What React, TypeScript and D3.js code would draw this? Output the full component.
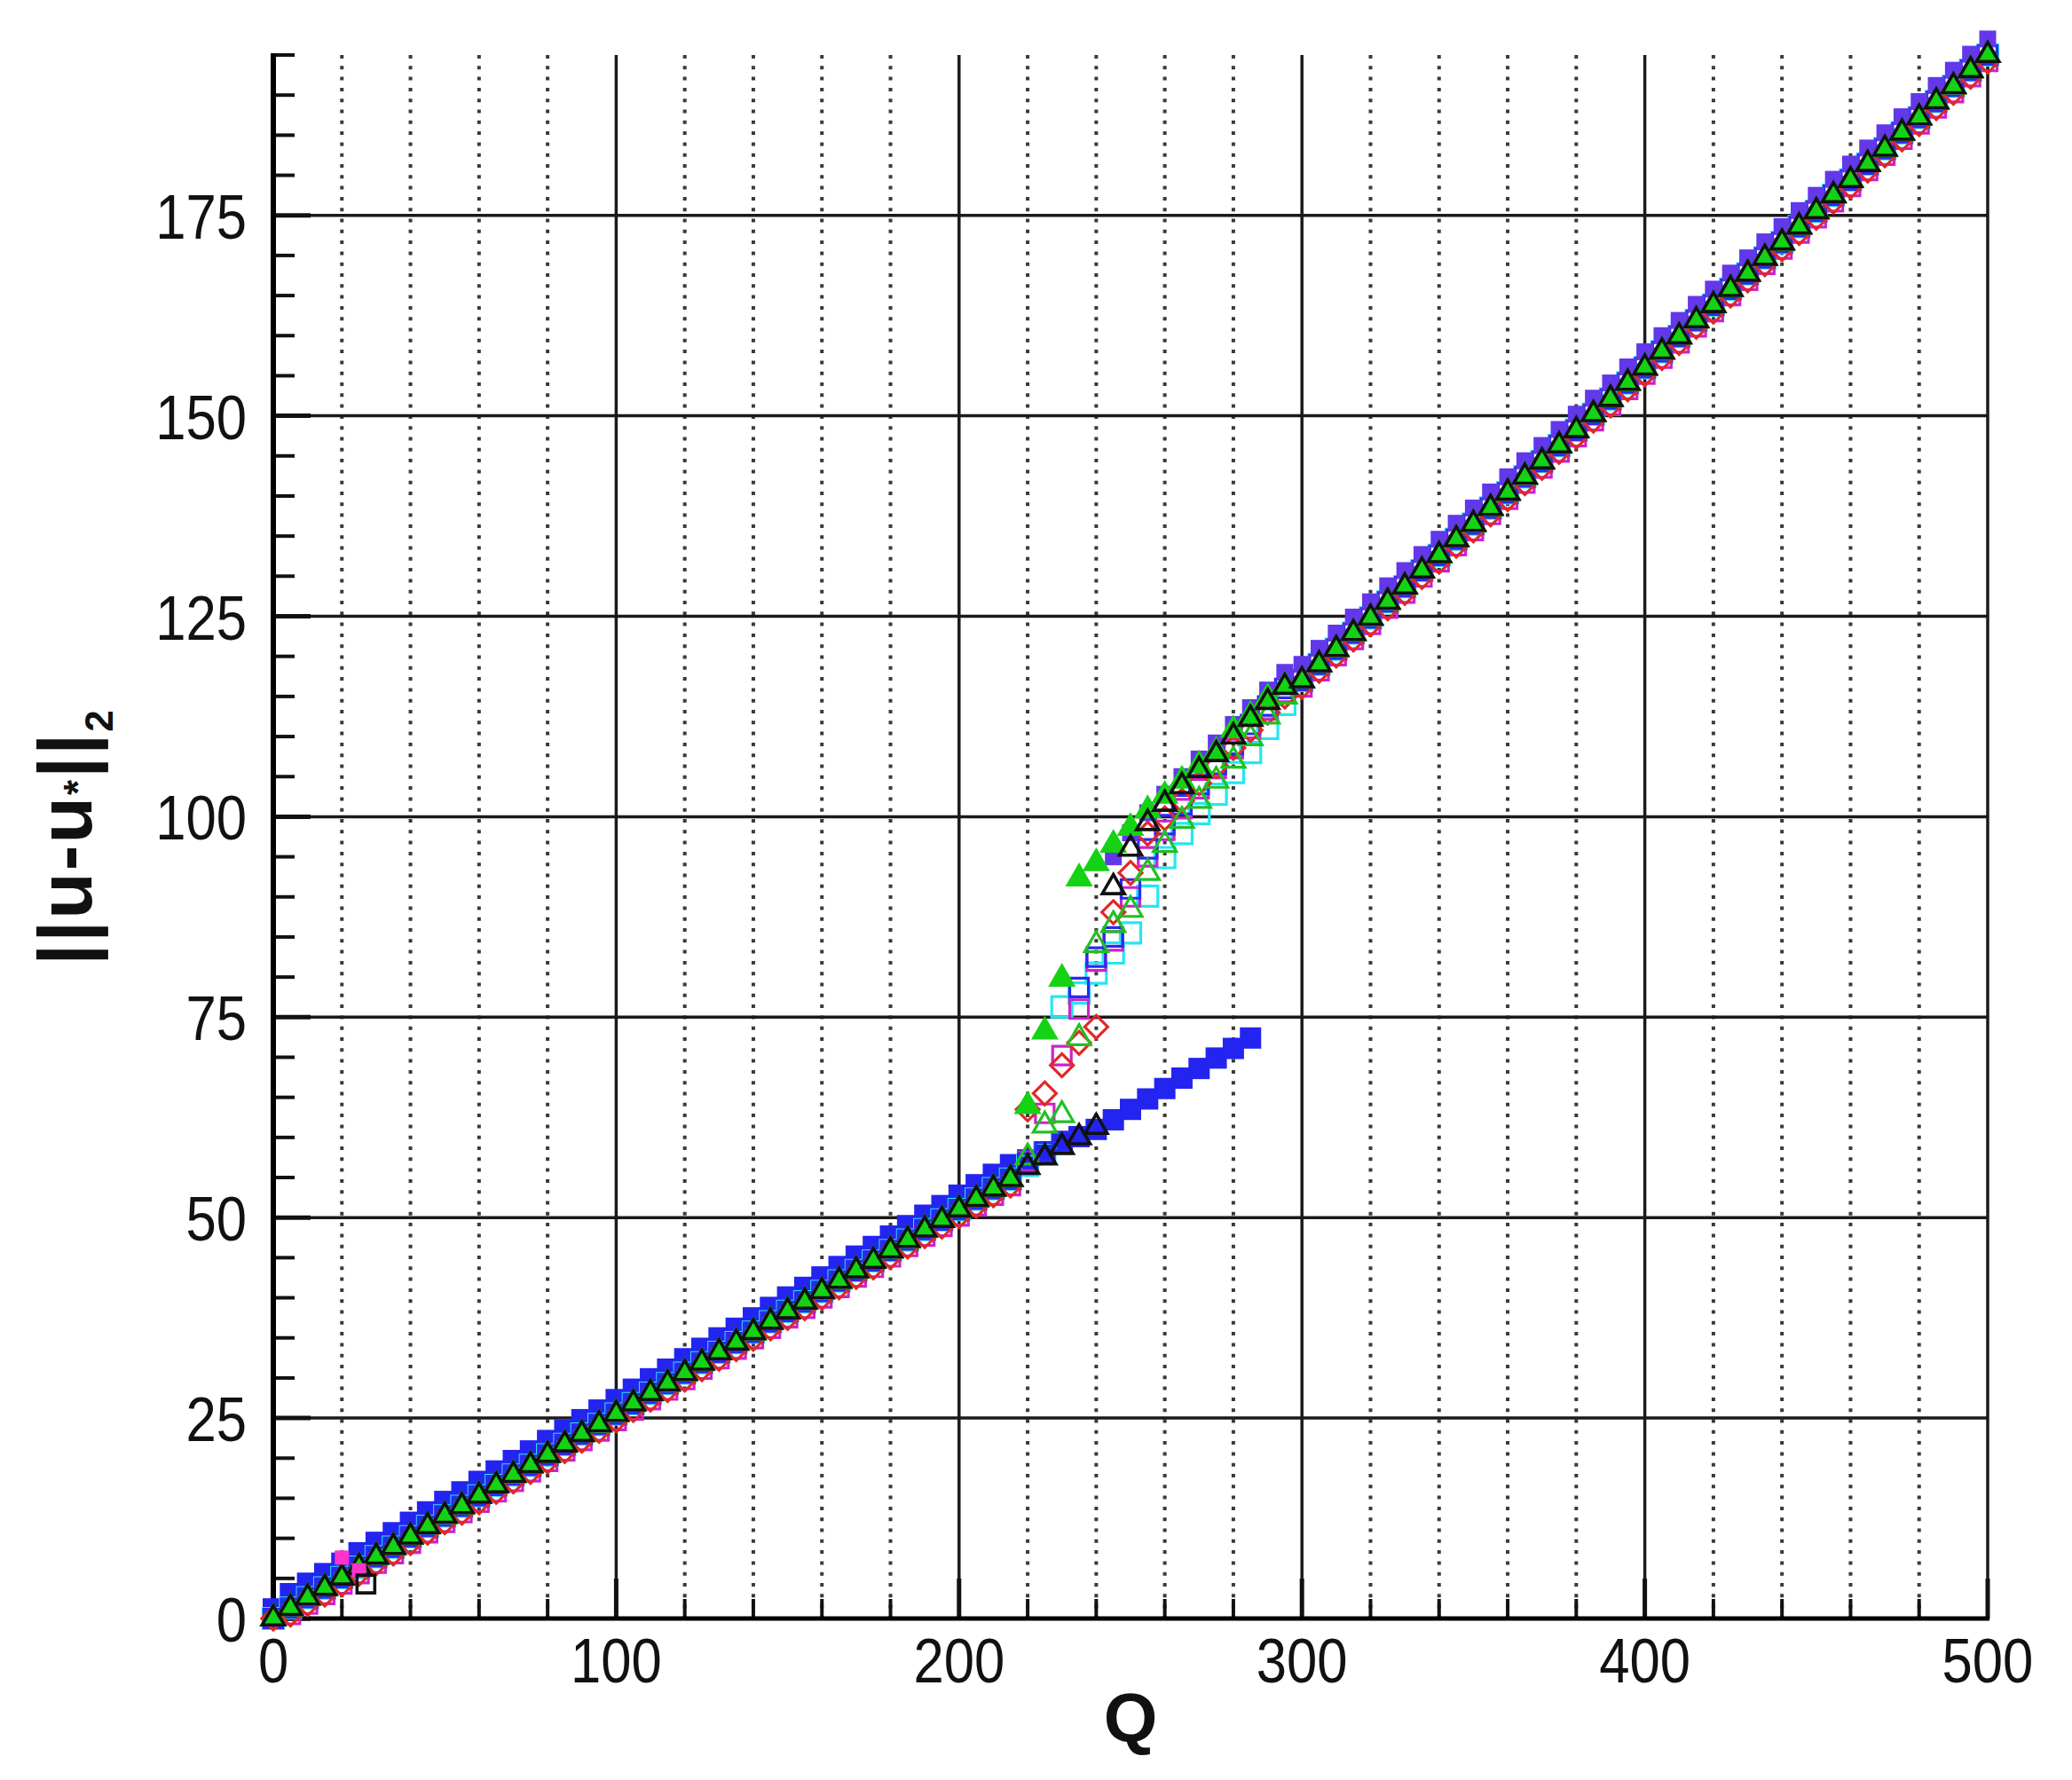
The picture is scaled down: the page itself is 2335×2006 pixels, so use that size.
import React from 'react';
import * as d3 from 'd3';

// ---------- data ----------
const qLower = [0, 5, 10, 15, 20, 25, 30, 35, 40, 45, 50, 55, 60, 65, 70, 75, 80, 85, 90, 95, 100, 105, 110, 115, 120, 125, 130, 135, 140, 145, 150, 155, 160, 165, 170, 175, 180, 185, 190, 195, 200, 205, 210, 215];
const uLowerMid = [0, 1.3, 2.6, 3.8, 5.1, 6.4, 7.7, 8.9, 10.2, 11.5, 12.8, 14.0, 15.3, 16.6, 17.9, 19.1, 20.4, 21.7, 23.0, 24.2, 25.5, 26.8, 28.1, 29.3, 30.6, 31.9, 33.2, 34.4, 35.7, 37.0, 38.3, 39.5, 40.8, 42.1, 43.4, 44.6, 45.9, 47.2, 48.5, 49.7, 51.0, 52.3, 53.6, 54.8];
const uLowerHi = [1.2, 3.1, 4.4, 5.6, 6.9, 8.2, 9.5, 10.7, 12.0, 13.3, 14.6, 15.8, 17.1, 18.4, 19.7, 20.9, 22.2, 23.5, 24.8, 26.0, 27.3, 28.6, 29.9, 31.1, 32.4, 33.7, 35.0, 36.2, 37.5, 38.8, 40.1, 41.3, 42.6, 43.9, 45.2, 46.4, 47.7, 49.0, 50.3, 51.5, 52.8, 54.1, 55.4, 56.6];
const uLowerLo = [0, 0.5, 1.8, 3.0, 4.3, 5.6, 6.9, 8.1, 9.4, 10.7, 12.0, 13.2, 14.5, 15.8, 17.1, 18.3, 19.6, 20.9, 22.2, 23.4, 24.7, 26.0, 27.3, 28.5, 29.8, 31.1, 32.4, 33.6, 34.9, 36.2, 37.5, 38.7, 40.0, 41.3, 42.6, 43.8, 45.1, 46.4, 47.7, 48.9, 50.2, 51.5, 52.8, 54.0];

const qUpper = [300, 305, 310, 315, 320, 325, 330, 335, 340, 345, 350, 355, 360, 365, 370, 375, 380, 385, 390, 395, 400, 405, 410, 415, 420, 425, 430, 435, 440, 445, 450, 455, 460, 465, 470, 475, 480, 485, 490, 495, 500];
const uUpperMid = [117.0, 119.0, 120.9, 122.9, 124.8, 126.8, 128.7, 130.7, 132.6, 134.6, 136.5, 138.5, 140.4, 142.4, 144.3, 146.3, 148.2, 150.2, 152.1, 154.1, 156.0, 158.0, 159.9, 161.9, 163.8, 165.8, 167.7, 169.7, 171.6, 173.6, 175.5, 177.5, 179.4, 181.4, 183.3, 185.3, 187.2, 189.2, 191.1, 193.1, 195.0];
const uUpperHi = [119.0, 121.0, 122.9, 124.9, 126.8, 128.8, 130.7, 132.7, 134.6, 136.6, 138.5, 140.5, 142.4, 144.4, 146.3, 148.3, 150.2, 152.2, 154.1, 156.1, 158.0, 160.0, 161.9, 163.9, 165.8, 167.8, 169.7, 171.7, 173.6, 175.6, 177.5, 179.5, 181.4, 183.4, 185.3, 187.3, 189.2, 191.2, 193.1, 195.1, 197.0];
const uUpperLo = [116.2, 118.2, 120.1, 122.1, 124.0, 126.0, 127.9, 129.9, 131.8, 133.8, 135.7, 137.7, 139.6, 141.6, 143.5, 145.5, 147.4, 149.4, 151.3, 153.3, 155.2, 157.2, 159.1, 161.1, 163.0, 165.0, 166.9, 168.9, 170.8, 172.8, 174.7, 176.7, 178.6, 180.6, 182.5, 184.5, 186.4, 188.4, 190.3, 192.3, 194.2];

// transition region, Q = 220 ... 295
const qTrans = [220, 225, 230, 235, 240, 245, 250, 255, 260, 265, 270, 275, 280, 285, 290, 295];
const uTransGreenFilled = [63.9, 73.2, 79.8, 92.3, 94.2, 96.5, 98.6, 100.8, 102.6, 104.5, 106.4, 108.1, 110.8, 112.6, 114.8, 116.3];
const uTransRedDiamond = [63.5, 65.5, 69.0, 71.8, 73.8, 88.1, 93.0, 97.9, 99.8, 102.0, 104.2, 106.3, 108.6, 110.8, 113.0, 115.0];
const uTransGreenOpen = [57.5, 61.5, 62.8, 72.4, 84.0, 86.5, 88.4, 93.0, 96.5, 99.5, 102.0, 104.5, 107.0, 109.8, 112.5, 115.0];
const uTransBlackTri = [56.3, 57.5, 58.8, 60.0, 61.3, 91.2, 96.0, 99.2, 101.6, 103.8, 105.8, 107.8, 110.0, 112.2, 114.3, 116.2];
const uTransMagentaSq = [57.0, 63.0, 70.2, 76.0, 82.0, 84.5, 90.0, 95.0, 98.3, 101.0, 103.5, 106.0, 108.5, 111.0, 113.3, 115.5];
const uTransCyanSq = [56.5, 58.0, 76.3, 78.0, 80.5, 83.0, 85.5, 90.1, 94.9, 97.9, 100.4, 102.8, 105.5, 108.0, 111.0, 114.0];
const uTransBlueSq = [56.8, 58.2, 59.5, 78.7, 82.5, 85.0, 91.0, 96.0, 99.0, 101.5, 104.0, 106.5, 109.0, 111.5, 113.8, 116.0];

// lower branch of the filled blue squares (ends near Q = 285)
const qBlueBranch = [220, 225, 230, 235, 240, 245, 250, 255, 260, 265, 270, 275, 280, 285];
const uBlueBranch = [57.2, 58.2, 59.2, 60.1, 61.0, 62.2, 63.5, 64.8, 66.1, 67.4, 68.6, 69.9, 71.1, 72.4];

// violet filled squares on the upper branch
const qVioletTrans = [245, 250, 255, 260, 265, 270, 275, 280, 285, 290, 295];
const uVioletTrans = [95.0, 98.0, 100.5, 102.8, 105.0, 107.2, 109.2, 111.5, 113.6, 115.8, 118.0];

// small deviation near the origin
const qMagentaBump = [20, 25];
const uMagentaBump = [7.6, 6.0];
const qBlackBump = [27];
const uBlackBump = [4.3];

const xTicksMajor = [0, 100, 200, 300, 400, 500];
const yTicksMajor = [0, 25, 50, 75, 100, 125, 150, 175];

// ---------- layout ----------
const W = 2335;
const H = 2006;
const M = { left: 308, right: 2240, top: 62, bottom: 1824 };

const x = d3.scaleLinear().domain([0, 500]).range([M.left, M.right]);
const y = d3.scaleLinear().domain([0, 195]).range([M.bottom, M.top]);

type Seg = [number[], number[]];
interface Series {
  key: string;
  shape: 'square' | 'diamond' | 'triangle';
  fill: string;
  stroke: string;
  sw: number;
  size: number;
  segs: Seg[];
}

const series: Series[] = [
  { key: 'blueFilled', shape: 'square', fill: '#2424f0', stroke: 'none', sw: 0, size: 24, segs: [[qLower, uLowerHi], [qBlueBranch, uBlueBranch]] },
  { key: 'cyanSq', shape: 'square', fill: 'none', stroke: '#25e6f2', sw: 3.2, size: 23, segs: [[qLower, uLowerMid], [qTrans, uTransCyanSq], [qUpper, uUpperMid]] },
  { key: 'magentaSq', shape: 'square', fill: 'none', stroke: '#cc22cc', sw: 3.2, size: 21, segs: [[qLower, uLowerLo], [qTrans, uTransMagentaSq], [qUpper, uUpperLo]] },
  { key: 'blueSq', shape: 'square', fill: 'none', stroke: '#2a2af0', sw: 3.2, size: 21, segs: [[qLower, uLowerMid], [qTrans, uTransBlueSq], [qUpper, uUpperMid]] },
  { key: 'redDiamond', shape: 'diamond', fill: 'none', stroke: '#e02828', sw: 3.2, size: 26, segs: [[qLower, uLowerLo], [qTrans, uTransRedDiamond], [qUpper, uUpperLo]] },
  { key: 'greenOpen', shape: 'triangle', fill: 'none', stroke: '#22c022', sw: 3.2, size: 26, segs: [[qLower, uLowerMid], [qTrans, uTransGreenOpen], [qUpper, uUpperMid]] },
  { key: 'violetFilled', shape: 'square', fill: '#6238ea', stroke: 'none', sw: 0, size: 19, segs: [[qVioletTrans, uVioletTrans], [qUpper, uUpperHi]] },
  { key: 'greenFilled', shape: 'triangle', fill: '#14d214', stroke: 'none', sw: 0, size: 31, segs: [[qLower, uLowerMid], [qTrans, uTransGreenFilled], [qUpper, uUpperMid]] },
  { key: 'blackTri', shape: 'triangle', fill: 'none', stroke: '#111111', sw: 3.6, size: 25, segs: [[qLower, uLowerMid], [qTrans, uTransBlackTri], [qUpper, uUpperMid]] },
  { key: 'magentaFilled', shape: 'square', fill: '#ff33cc', stroke: 'none', sw: 0, size: 16, segs: [[qMagentaBump, uMagentaBump]] },
  { key: 'blackSq', shape: 'square', fill: 'none', stroke: '#111111', sw: 3.6, size: 20, segs: [[qBlackBump, uBlackBump]] },
];

function markerPath(shape: string, s: number): string {
  if (shape === 'square') return d3.symbol(d3.symbolSquare, s * s)() as string;
  if (shape === 'diamond') return d3.symbol(d3.symbolSquare, (s * s) / 2)() as string;
  return d3.symbol(d3.symbolTriangle, (Math.sqrt(3) / 4) * s * s)() as string;
}

const FONT = "'Liberation Sans', Arial, Helvetica, sans-serif";

export default function App() {
  const yMinor = d3.range(5, 196, 5).filter((v) => v % 25 !== 0);
  const xMinor = d3.range(20, 500, 20).filter((v) => v % 100 !== 0);

  return (
    <svg
      width={W}
      height={H}
      viewBox={`0 0 ${W} ${H}`}
      style={{ position: 'absolute', left: 0, top: 0, background: '#fff' }}
    >
      <rect x={0} y={0} width={W} height={H} fill="#fff" />

      {/* dotted minor vertical grid */}
      {xMinor.map((v) => (
        <line key={`dx${v}`} x1={x(v)} x2={x(v)} y1={y(195)} y2={y(0)} stroke="#3a3a3a" strokeWidth={4} strokeDasharray="4 8.3" />
      ))}
      {/* major grid */}
      {yTicksMajor.filter((v) => v > 0).map((v) => (
        <line key={`gy${v}`} x1={x(0)} x2={x(500)} y1={y(v)} y2={y(v)} stroke="#1a1a1a" strokeWidth={3.5} />
      ))}
      {xTicksMajor.filter((v) => v > 0).map((v) => (
        <line key={`gx${v}`} x1={x(v)} x2={x(v)} y1={y(195)} y2={y(0)} stroke="#1a1a1a" strokeWidth={3.5} />
      ))}

      {/* ticks */}
      {yMinor.map((v) => (
        <line key={`ty${v}`} x1={x(0)} x2={x(0) + 24} y1={y(v)} y2={y(v)} stroke="#111" strokeWidth={4} />
      ))}
      {yTicksMajor.map((v) => (
        <line key={`tY${v}`} x1={x(0)} x2={x(0) + 42} y1={y(v)} y2={y(v)} stroke="#111" strokeWidth={5} />
      ))}
      {xMinor.map((v) => (
        <line key={`tx${v}`} x1={x(v)} x2={x(v)} y1={y(0)} y2={y(0) - 22} stroke="#111" strokeWidth={4} />
      ))}
      {xTicksMajor.map((v) => (
        <line key={`tX${v}`} x1={x(v)} x2={x(v)} y1={y(0)} y2={y(0) - 45} stroke="#111" strokeWidth={5} />
      ))}

      {/* axes */}
      <line x1={x(0)} x2={x(0)} y1={y(195) - 2} y2={y(0) + 3} stroke="#000" strokeWidth={6} />
      <line x1={x(0) - 3} x2={x(500) + 2} y1={y(0)} y2={y(0)} stroke="#000" strokeWidth={5} />

      {/* markers */}
      {series.map((s) => {
        const d = markerPath(s.shape, s.size);
        const rot = s.shape === 'diamond' ? ' rotate(45)' : '';
        return (
          <g key={s.key}>
            {s.segs.flatMap(([qs, vs], si) =>
              vs.map((v, i) => (
                <path
                  key={`${s.key}-${si}-${i}`}
                  d={d}
                  transform={`translate(${x(qs[i])},${y(v)})${rot}`}
                  fill={s.fill}
                  stroke={s.stroke}
                  strokeWidth={s.sw}
                />
              ))
            )}
          </g>
        );
      })}

      {/* tick labels */}
      {yTicksMajor.map((v) => (
        <text
          key={`ly${v}`}
          transform={`translate(${x(0) - 30},${y(v) + 26}) scale(0.88,1)`}
          textAnchor="end"
          fontFamily={FONT}
          fontSize={70}
          fill="#111"
        >
          {v}
        </text>
      ))}
      {xTicksMajor.map((v) => (
        <text
          key={`lx${v}`}
          transform={`translate(${x(v)},${y(0) + 72}) scale(0.88,1)`}
          textAnchor="middle"
          fontFamily={FONT}
          fontSize={70}
          fill="#111"
        >
          {v}
        </text>
      ))}

      {/* axis titles */}
      <text x={x(250)} y={1963} textAnchor="middle" fontFamily={FONT} fontWeight="bold" fontSize={78} fill="#111">
        Q
      </text>
      <text
        transform={`translate(103,${y(97.5)}) rotate(-90)`}
        textAnchor="middle"
        fontFamily={FONT}
        fontWeight="bold"
        fontSize={86}
        letterSpacing={2}
        fill="#111"
      >
        <tspan>||u-u</tspan>
        <tspan fontSize={44}>*</tspan>
        <tspan>||</tspan>
        <tspan fontSize={44} dy={24}>2</tspan>
      </text>
    </svg>
  );
}
